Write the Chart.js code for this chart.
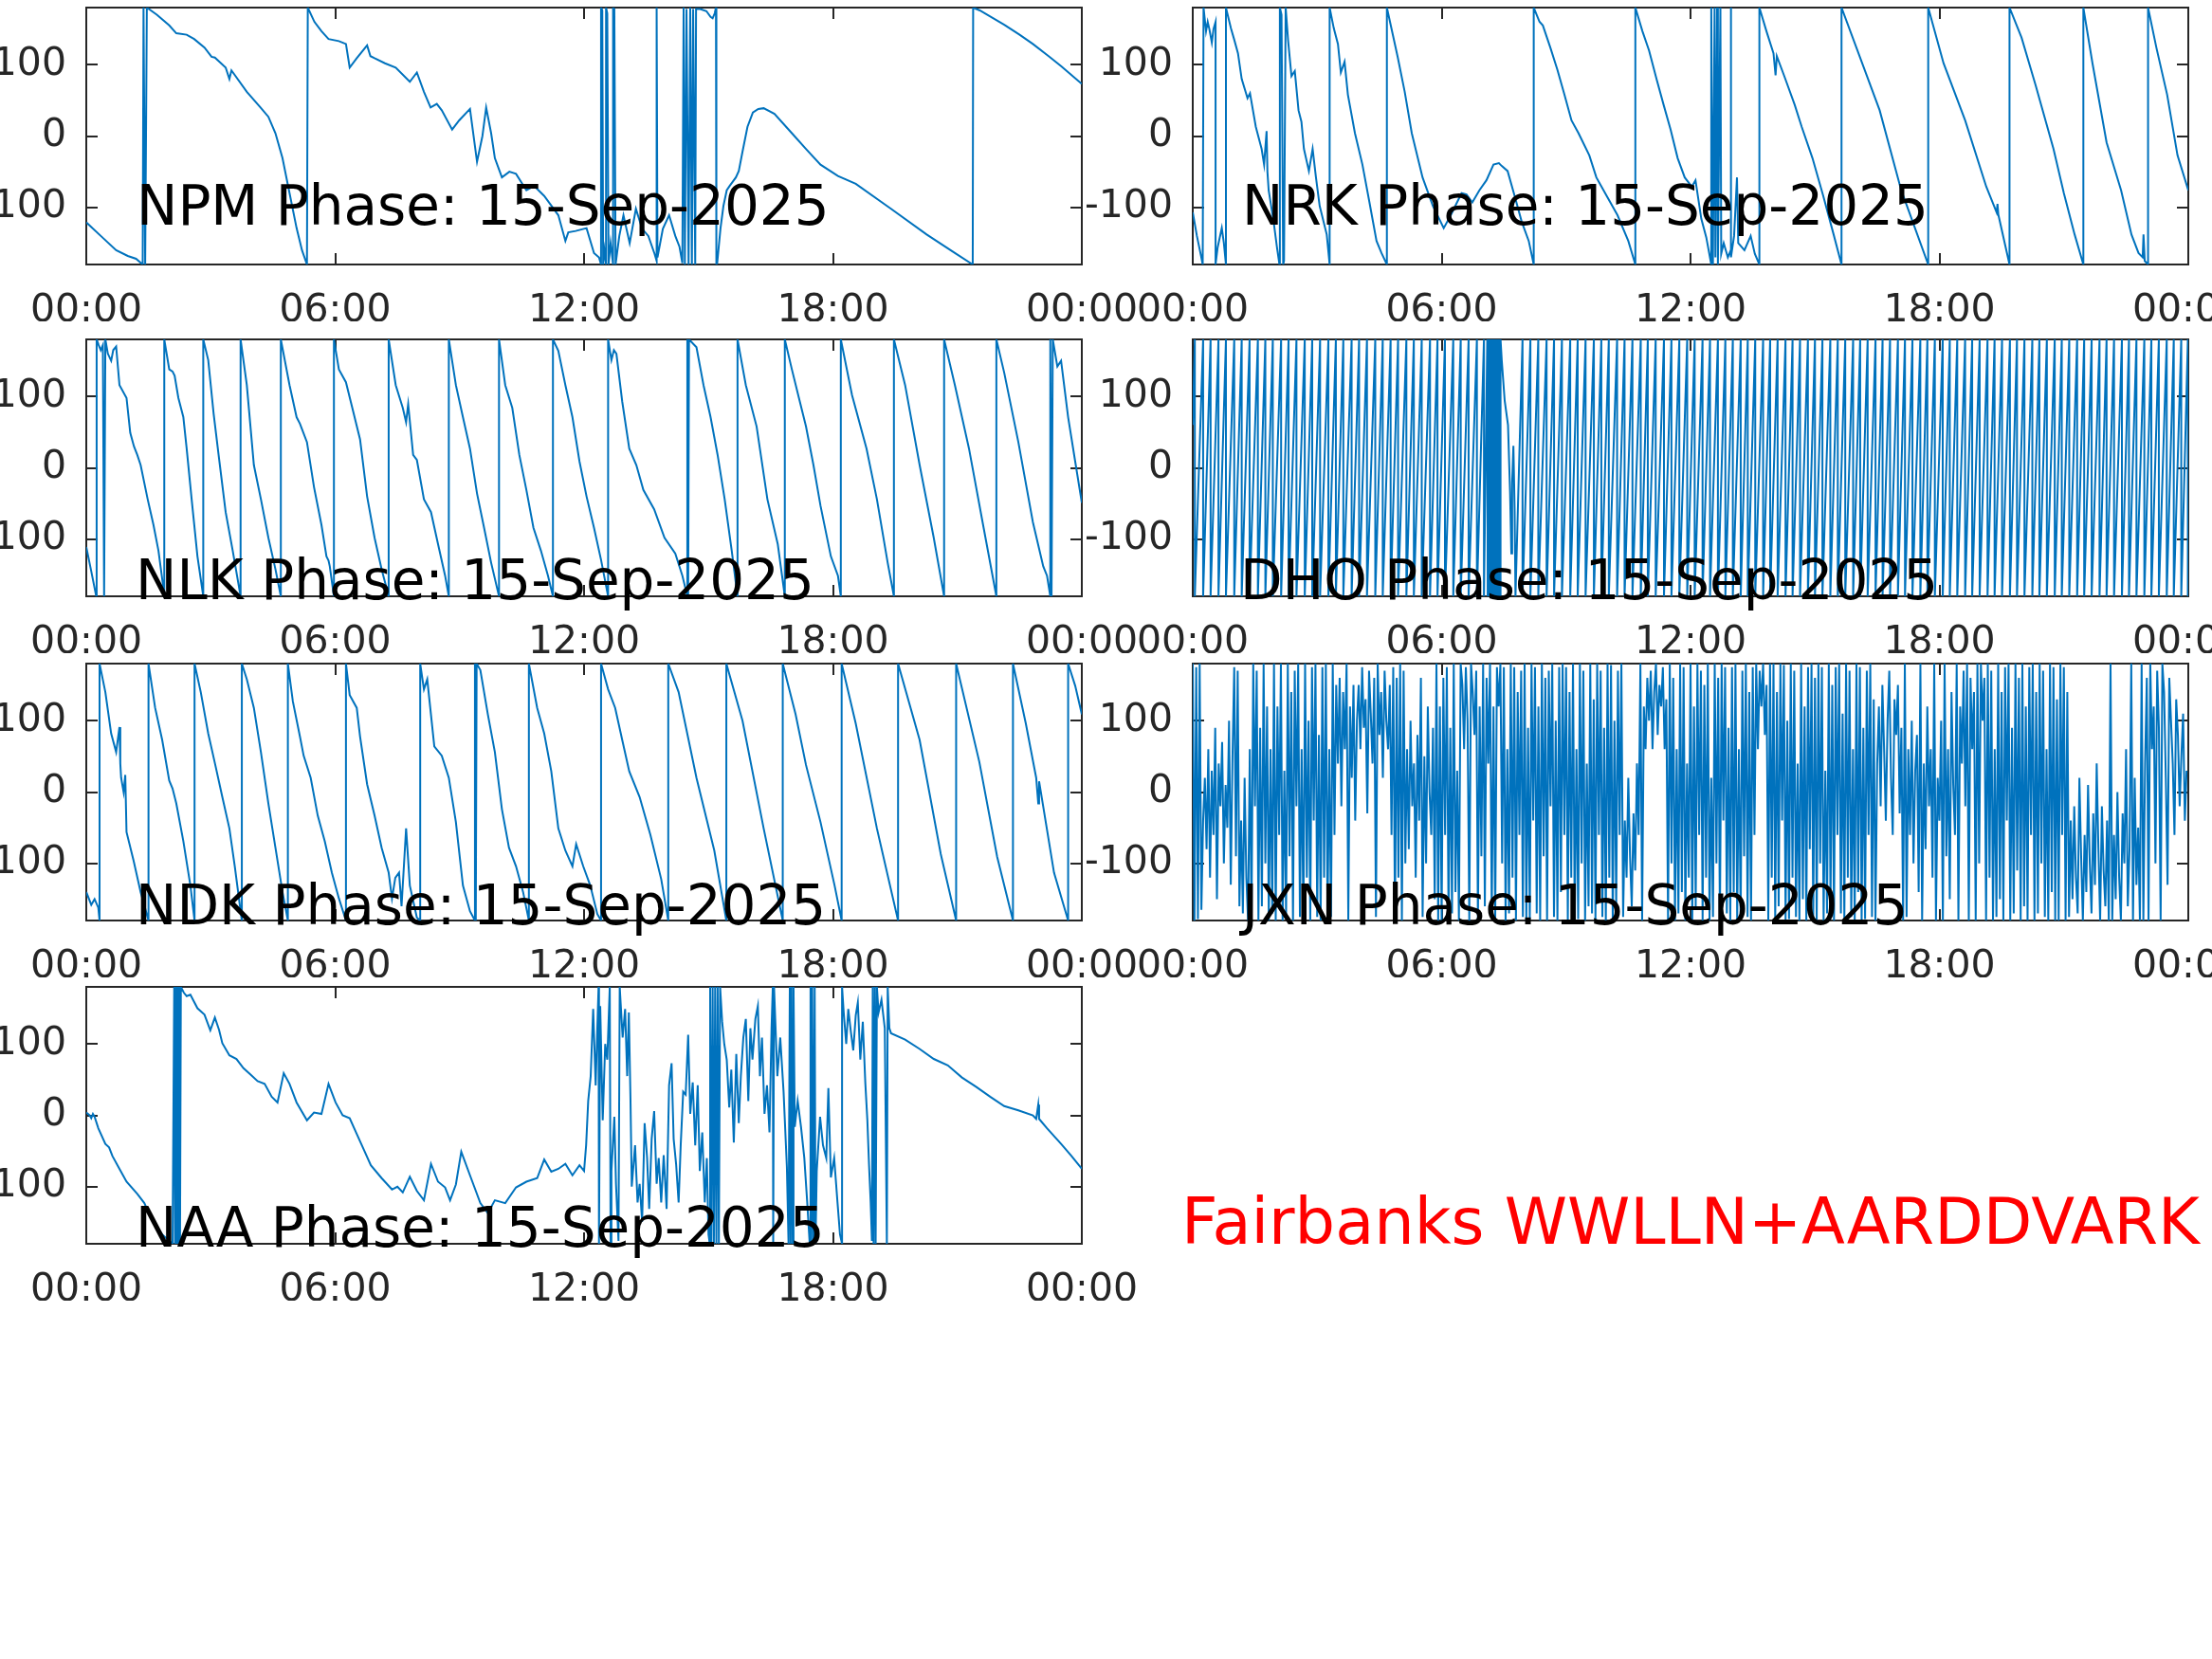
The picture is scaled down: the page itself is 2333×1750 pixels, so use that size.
<!DOCTYPE html>
<html>
<head>
<meta charset="utf-8">
<script src="https://cdn.jsdelivr.net/npm/chart.js@4.4.1/dist/chart.umd.min.js"></script>
<style>
html,body{margin:0;padding:0;width:2333px;height:1750px;overflow:hidden;background:#ffffff;}
canvas{position:absolute;}
#note{position:absolute;left:1246px;top:1256px;font-family:"DejaVu Sans";font-size:67px;line-height:1;color:#ff0000;white-space:nowrap;}
</style>
</head>
<body>
<div id="note">Fairbanks WWLLN+AARDDVARK</div>
<script>
// ---------------- DATA ----------------
const xTickHours = [0, 6, 12, 18, 24];
const xTickLabels = ["00:00", "06:00", "12:00", "18:00", "00:00"];
const yTicks = [-100, 0, 100];
const dateLabel = "15-Sep-2025";

// [hour, phase(deg)]
const npm = [
[0,-121],[0.35,-140],[0.72,-160],[1.0,-168],[1.2,-172],[1.36,-180],[1.38,180],[1.42,-180],[1.46,180],
[1.7,170],[2.0,155],[2.17,144],[2.42,142],[2.6,136],[2.85,124],[3.02,111],[3.1,110],[3.36,96],[3.45,80],[3.5,92],[3.87,62],[4.2,40],[4.39,27],[4.56,4],[4.73,-31],[4.9,-80],[5.07,-129],[5.2,-160],[5.32,-180],
[5.34,180],[5.5,160],[5.67,147],[5.84,136],[6.09,133],[6.26,129],[6.35,96],[6.52,109],[6.77,127],[6.85,112],[6.95,109],[7.2,102],[7.46,96],[7.8,76],[7.97,89],[8.14,62],[8.3,40],[8.45,45],[8.57,36],[8.82,9],[8.99,22],[9.25,38],[9.42,-36],[9.55,0],[9.64,40],[9.76,4],[9.85,-31],[10.02,-58],[10.2,-50],[10.36,-53],[10.61,-76],[10.8,-70],[11.04,-84],[11.38,-111],[11.55,-147],[11.62,-135],[11.8,-133],[12.06,-129],[12.24,-164],[12.36,-170],
[12.41,-180],[12.41,180],[12.44,176],[12.46,-180],[12.49,-160],[12.53,-180],[12.53,180],[12.56,172],[12.59,-180],[12.64,-150],[12.7,-180],[12.7,180],[12.73,178],[12.76,-180],[12.85,-140],[12.95,-111],[13.1,-150],[13.25,-102],[13.4,-130],[13.55,-140],[13.7,-165],[13.75,-175],[13.75,180],[13.77,-170],
[13.9,-130],[14.05,-111],[14.2,-140],[14.3,-155],[14.37,-178],[14.4,180],[14.43,-180],[14.47,178],[14.52,-180],[14.56,180],[14.6,-180],[14.63,178],[14.68,-180],[14.7,178],[14.8,178],[14.95,175],[15.05,167],[15.1,165],[15.15,172],[15.18,180],[15.19,-180],
[15.21,-178],[15.29,-129],[15.36,-98],[15.44,-76],[15.51,-70],[15.66,-58],[15.73,-49],[15.82,-22],[15.94,13],[16.07,33],[16.2,38],[16.33,39],[16.59,31],[17.01,4],[17.35,-18],[17.7,-40],[18.12,-56],[18.55,-67],[19.4,-102],[20.26,-138],[20.94,-164],[21.37,-180],
[21.38,180],[21.54,176],[22.13,156],[22.5,142],[22.82,129],[23.2,112],[23.5,98],[24,73]
];

const nrk = [
[0,-107],[0.1,-140],[0.2,-168],[0.24,-180],[0.26,180],[0.32,147],[0.36,160],[0.4,150],[0.46,131],[0.5,150],[0.55,160],[0.55,-180],[0.6,-156],[0.7,-129],[0.75,-150],[0.8,-180],[0.8,180],
[0.92,151],[1.0,135],[1.09,116],[1.18,80],[1.32,53],[1.38,60],[1.52,13],[1.66,-18],[1.72,-40],[1.78,7],[1.8,-50],[1.83,-76],[1.95,-120],[2.03,-156],[2.09,-180],[2.1,180],[2.14,170],[2.18,-180],[2.2,-175],[2.24,180],
[2.3,133],[2.38,84],[2.46,91],[2.55,36],[2.62,20],[2.68,-18],[2.8,-49],[2.89,-18],[2.97,-58],[3.06,-98],[3.23,-138],[3.3,-180],[3.3,180],
[3.4,151],[3.5,129],[3.57,89],[3.66,104],[3.74,58],[3.91,4],[4.09,-40],[4.26,-93],[4.43,-147],[4.55,-164],[4.68,-180],[4.68,180],
[4.94,111],[5.11,62],[5.28,4],[5.54,-58],[5.79,-98],[6.05,-129],[6.22,-111],[6.48,-80],[6.6,-82],[6.74,-93],[6.91,-76],[7.08,-62],[7.25,-40],[7.38,-38],[7.45,-42],[7.59,-49],[7.76,-84],[7.93,-120],[8.1,-147],[8.22,-180],[8.22,180],
[8.36,160],[8.44,155],[8.62,124],[8.79,93],[8.96,58],[9.13,22],[9.3,4],[9.56,-27],[9.73,-58],[9.98,-84],[10.24,-111],[10.5,-147],[10.67,-180],[10.67,180],
[10.84,147],[11.0,120],[11.18,80],[11.35,44],[11.52,9],[11.69,-31],[11.86,-58],[12.03,-71],[12.12,-62],[12.26,-116],[12.38,-142],[12.5,-180],[12.5,180],[12.54,-180],[12.58,180],[12.6,-170],[12.64,180],[12.66,-180],[12.72,180],[12.74,-165],[12.8,-150],[12.9,-170],[12.97,-160],[12.97,180],[12.98,-170],[13.05,-140],[13.12,-58],[13.15,-150],[13.3,-160],[13.45,-140],[13.55,-165],[13.66,-180],[13.66,180],
[13.83,147],[14.0,116],[14.05,85],[14.08,112],[14.26,84],[14.51,44],[14.68,13],[14.94,-31],[15.2,-84],[15.45,-138],[15.64,-180],[15.64,180],
[16.56,36],[17.08,-76],[17.73,-180],[17.73,180],
[18.1,102],[18.62,22],[19.13,-71],[19.38,-107],[19.4,-95],[19.42,-110],[19.69,-180],[19.69,180],
[19.98,138],[20.32,71],[20.75,-18],[21.0,-80],[21.26,-138],[21.47,-180],[21.47,180],
[21.69,102],[22.03,-9],[22.38,-76],[22.63,-138],[22.8,-164],[22.9,-170],[22.92,-138],[22.95,-175],[23.03,-180],[23.03,180],
[23.23,124],[23.49,58],[23.74,-27],[24,-76]
];

const nlk = [
[0,-111],[0.12,-145],[0.24,-180],[0.25,180],[0.3,172],[0.35,165],[0.4,172],[0.43,-180],[0.46,180],[0.52,160],[0.6,150],[0.65,165],[0.72,170],[0.8,116],[0.97,98],[1.06,49],[1.15,30],[1.23,18],[1.31,4],[1.48,-44],[1.62,-80],[1.74,-116],[1.86,-169],[1.88,-180],[1.88,180],
[2.0,138],[2.08,135],[2.13,129],[2.22,98],[2.34,71],[2.42,27],[2.54,-44],[2.68,-124],[2.82,-180],[2.82,180],
[2.94,151],[3.07,76],[3.19,18],[3.36,-62],[3.53,-116],[3.72,-180],[3.72,180],
[3.87,116],[4.04,4],[4.21,-44],[4.39,-98],[4.56,-142],[4.69,-180],[4.69,180],
[4.9,116],[5.07,71],[5.15,62],[5.32,36],[5.49,-27],[5.67,-80],[5.79,-124],[5.84,-130],[5.87,-138],[5.97,-180],[5.97,180],
[6.09,138],[6.26,120],[6.43,80],[6.6,40],[6.77,-40],[6.95,-98],[7.12,-142],[7.29,-180],[7.29,180],
[7.46,116],[7.63,84],[7.71,64],[7.76,89],[7.88,18],[7.97,11],[8.14,-44],[8.31,-62],[8.48,-107],[8.65,-151],[8.74,-180],[8.74,180],
[8.91,116],[9.08,71],[9.25,27],[9.42,-36],[9.59,-84],[9.76,-133],[9.95,-180],[9.95,180],
[10.1,116],[10.27,84],[10.44,18],[10.61,-31],[10.78,-84],[10.96,-116],[11.13,-151],[11.25,-180],[11.25,180],
[11.38,164],[11.55,116],[11.72,71],[11.89,9],[12.06,-40],[12.24,-84],[12.41,-129],[12.58,-180],[12.58,180],
[12.66,151],[12.72,165],[12.78,160],[12.92,93],[13.09,27],[13.26,4],[13.43,-31],[13.69,-58],[13.94,-98],[14.2,-120],[14.37,-151],[14.49,-180],[14.49,180],[14.51,-180],[14.53,180],
[14.71,169],[14.88,116],[15.05,71],[15.22,18],[15.39,-44],[15.56,-116],[15.7,-180],[15.7,180],
[15.9,116],[16.16,58],[16.42,-44],[16.67,-107],[16.84,-180],[16.84,180],
[17.01,138],[17.18,98],[17.35,58],[17.53,4],[17.7,-53],[17.95,-124],[18.12,-151],[18.19,-180],[18.19,180],
[18.46,102],[18.81,27],[19.06,-44],[19.32,-133],[19.47,-180],[19.47,180],
[19.74,116],[20.09,4],[20.43,-98],[20.68,-180],[20.68,180],
[20.94,116],[21.28,27],[21.62,-80],[21.94,-180],[21.94,180],
[22.13,133],[22.47,36],[22.82,-76],[23.07,-138],[23.16,-151],[23.24,-180],[23.24,180],[23.27,-180],[23.3,180],
[23.41,142],[23.5,150],[23.67,71],[23.84,9],[24,-49]
];

const ndk = [
[0,-140],[0.12,-158],[0.2,-150],[0.29,-162],[0.32,-180],[0.32,180],
[0.46,140],[0.6,82],[0.72,56],[0.8,91],[0.82,40],[0.84,20],[0.9,0],[0.94,24],[0.97,-56],[1.14,-96],[1.31,-140],[1.5,-180],[1.5,180],
[1.66,118],[1.83,73],[2.0,16],[2.08,5],[2.17,-16],[2.34,-69],[2.51,-131],[2.61,-180],[2.61,180],
[2.76,140],[2.94,82],[3.11,38],[3.28,-7],[3.45,-51],[3.58,-104],[3.75,-180],[3.75,180],
[3.87,158],[4.04,118],[4.21,56],[4.39,-16],[4.56,-78],[4.73,-140],[4.86,-180],[4.86,180],
[4.98,127],[5.15,78],[5.24,51],[5.41,20],[5.58,-33],[5.75,-69],[5.92,-113],[6.09,-149],[6.26,-180],[6.26,180],
[6.35,136],[6.52,118],[6.6,78],[6.77,11],[6.95,-33],[7.12,-78],[7.29,-113],[7.37,-149],[7.45,-120],[7.54,-113],[7.6,-160],[7.71,-51],[7.8,-131],[7.97,-176],[8.05,-180],[8.05,180],
[8.14,144],[8.22,158],[8.39,64],[8.57,51],[8.74,20],[8.91,-42],[9.08,-131],[9.25,-167],[9.37,-180],[9.37,180],[9.39,-180],[9.41,180],
[9.5,171],[9.68,109],[9.85,56],[10.02,-24],[10.19,-78],[10.36,-104],[10.53,-140],[10.67,-180],[10.67,180],
[10.87,118],[11.04,82],[11.21,29],[11.38,-51],[11.55,-82],[11.72,-104],[11.81,-73],[11.98,-104],[12.15,-131],[12.32,-171],[12.41,-180],[12.41,180],
[12.58,144],[12.75,118],[12.92,73],[13.09,29],[13.34,-7],[13.6,-60],[13.86,-122],[14.03,-180],[14.03,180],
[14.28,140],[14.71,20],[15.14,-82],[15.43,-180],[15.43,180],
[15.82,100],[16.33,-51],[16.79,-180],[16.79,180],
[17.1,109],[17.35,38],[17.7,-42],[18.04,-131],[18.21,-180],[18.21,180],
[18.55,96],[19.06,-51],[19.57,-180],[19.57,180],
[20.09,73],[20.6,-87],[20.97,-180],[20.97,180],
[21.53,42],[21.96,-91],[22.34,-180],[22.34,180],
[22.65,96],[22.9,20],[22.95,-16],[22.97,15],[23.33,-113],[23.67,-180],[23.67,180],
[23.84,149],[24,109]
];

const naa = [
[0,4],[0.08,0],[0.12,-4],[0.16,2],[0.2,-2],[0.29,-18],[0.46,-40],[0.55,-45],[0.63,-57],[0.8,-75],[0.97,-93],[1.23,-110],[1.4,-123],[1.57,-145],[1.83,-167],[2.08,-180],
[2.12,180],[2.14,-180],[2.16,180],[2.18,-180],[2.2,180],[2.22,-180],[2.24,180],[2.26,-180],[2.28,180],
[2.35,172],[2.42,167],[2.51,169],[2.68,150],[2.85,141],[2.99,119],[3.1,137],[3.2,120],[3.28,101],[3.45,84],[3.62,79],[3.79,66],[3.96,57],[4.13,48],[4.3,44],[4.47,26],[4.61,18],[4.76,59],[4.9,44],[5.07,18],[5.32,-7],[5.49,4],[5.67,2],[5.84,44],[6.01,18],[6.18,0],[6.35,-4],[6.52,-26],[6.69,-48],[6.86,-70],[7.12,-88],[7.37,-104],[7.5,-100],[7.63,-108],[7.8,-86],[7.97,-106],[8.14,-119],[8.31,-68],[8.48,-93],[8.65,-101],[8.77,-119],[8.91,-97],[9.04,-51],[9.25,-84],[9.5,-123],[9.68,-137],[9.85,-119],[10.1,-123],[10.36,-101],[10.61,-93],[10.87,-88],[11.04,-62],[11.21,-79],[11.38,-75],[11.55,-68],[11.72,-84],[11.89,-70],[12.0,-78],
[12.05,-42],[12.1,20],[12.16,55],[12.22,149],[12.28,42],[12.32,122],[12.35,180],[12.36,-180],[12.39,153],[12.45,-7],[12.51,100],[12.56,78],[12.62,180],[12.64,-180],[12.66,-78],[12.73,-2],[12.77,-96],[12.83,-176],[12.86,180],[12.93,109],[12.99,149],[13.04,55],[13.08,144],[13.12,20],[13.15,-100],[13.23,-42],[13.29,-122],[13.34,-96],[13.4,-149],[13.46,-11],[13.52,-60],[13.57,-131],[13.63,-33],[13.69,6],[13.75,-96],[13.8,-60],[13.86,-122],[13.92,-56],[13.99,-131],[14.05,42],[14.11,73],[14.16,-33],[14.22,-69],[14.28,-122],[14.33,-42],[14.39,33],[14.45,29],[14.51,113],[14.56,2],[14.62,46],[14.68,-42],[14.74,42],[14.79,-78],[14.85,-24],[14.91,-122],[14.96,-60],[15.0,-167],
[15.03,-180],[15.04,180],[15.07,-180],[15.1,180],[15.13,-180],[15.16,180],[15.19,-180],[15.22,180],[15.25,-180],[15.28,180],
[15.33,131],[15.38,100],[15.44,78],[15.5,11],[15.55,64],[15.61,-38],[15.67,86],[15.73,-11],[15.78,55],[15.84,109],[15.9,135],[15.96,20],[16.01,122],[16.06,78],[16.13,135],[16.19,153],[16.24,55],[16.29,109],[16.35,2],[16.41,42],[16.47,-24],[16.52,122],[16.55,180],[16.56,-180],[16.58,180],
[16.66,55],[16.73,109],[16.81,33],[16.89,-73],[16.93,-180],[16.96,180],[16.98,-180],[17.0,180],[17.03,-180],[17.05,180],[17.08,-16],[17.15,20],[17.23,-16],[17.31,-60],[17.38,-122],[17.44,-180],[17.46,180],[17.48,-180],[17.5,180],[17.53,-180],[17.56,180],[17.58,-180],
[17.61,-78],[17.69,-2],[17.76,-42],[17.84,-60],[17.89,38],[17.95,-87],[18.03,-60],[18.11,-122],[18.17,-167],[18.22,-180],[18.22,180],[18.26,144],[18.32,100],[18.37,149],[18.43,118],[18.49,91],[18.55,140],[18.6,158],[18.66,78],[18.72,131],[18.78,46],[18.83,-7],[18.87,-69],[18.91,-122],[18.94,-176],
[18.96,180],[18.98,-180],[19.01,180],[19.03,-180],[19.06,180],[19.1,144],[19.17,162],[19.25,122],[19.3,-180],[19.32,180],[19.36,122],
[19.4,115],[19.74,106],[20.09,93],[20.43,79],[20.77,70],[21.11,53],[21.45,40],[21.79,26],[22.13,13],[22.47,7],[22.82,0],[22.9,-5],[22.95,15],[22.97,-5],[23.16,-18],[23.5,-40],[23.75,-57],[24,-75]
];

// DHO: times (h) at which the rising phase wraps from +180 to -180
const dhoStart = 60;
const dhoWrapsEarly = [0.05,0.25,0.43,0.62,0.80,1.00,1.18,1.37,1.57,1.75,1.93,2.13,2.31,2.50,2.70,2.88,3.07,3.27,3.45,3.63,3.83,4.01,4.20,4.40,4.58,4.77,4.95,5.15,5.33,5.52,5.72,5.90,6.08,6.28,6.46,6.65,6.85,7.02];
const dhoBurst = [
[7.10,180],[7.11,-180],[7.13,180],[7.14,-180],[7.16,180],[7.17,-180],[7.19,180],[7.20,-180],[7.22,180],[7.23,-180],[7.25,180],[7.26,-180],[7.28,180],[7.29,-180],[7.31,180],[7.32,-180],[7.34,180],[7.35,-180],[7.37,180],[7.38,-180],[7.40,180],[7.41,-180],[7.42,180],
[7.45,150],[7.52,94],[7.6,60],[7.65,-35],[7.68,-120],[7.7,-20],[7.73,31],[7.76,-60],[7.78,-180]
];
const dhoWrapsLate = [7.95,8.14,8.33,8.53,8.71,8.90,9.10,9.28,9.47,9.67,9.85,10.03,10.23,10.41,10.60,10.80,10.97,11.16,11.36,11.54,11.73,11.92,12.10,12.29,12.47,12.66,12.84,13.02,13.21,13.38,13.56,13.75,13.92,14.10,14.29,14.46,14.64,14.83,15.00,15.18,15.37,15.55,15.73,15.92,16.09,16.27,16.46,16.63,16.81,17.00,17.17,17.35,17.54,17.71,17.89,18.08,18.25,18.43,18.62,18.79,18.97,19.16,19.33,19.51,19.70,19.87,20.05,20.24,20.41,20.59,20.78,20.95,21.13,21.32,21.49,21.67,21.86,22.03,22.21,22.40,22.57,22.75,22.94,23.11,23.29,23.48,23.65,23.83,23.99];
const dhoEnd = -170;

// JXN: phase sampled every 2.5 minutes (24 samples per hour), one row per hour
const jxnStepHours = 1 / 24;
const jxn = [
180,-180,175,-178,180,-165,-40,20,-80,60,-120,30,-60,90,-150,40,-20,70,-100,10,-50,100,-130,50,
175,-90,170,-160,-40,-170,20,-120,-180,60,-180,180,-20,170,-180,90,-160,180,-100,120,-180,60,-170,180,
-180,120,-60,180,-180,30,-175,180,-90,140,-180,170,-20,180,-175,60,-180,180,-120,100,-180,175,-40,180,
-175,80,-180,175,-120,180,-180,60,-175,180,-60,150,40,160,-20,140,60,180,-180,120,20,150,-40,100,
150,60,175,90,130,-30,170,110,40,160,-175,180,80,140,20,170,100,60,150,-60,175,-180,160,-120,
180,-180,170,-100,60,-80,100,-20,40,-120,80,-40,160,-175,50,-100,120,0,-60,90,-150,180,-180,120,
-180,160,-60,175,-180,90,-170,180,-140,30,-180,180,150,60,175,100,-180,180,140,80,170,-180,120,-90,
180,-160,160,40,180,-175,120,-180,175,120,180,-100,175,-180,60,-170,180,-120,175,-180,140,-60,170,-175,
180,-180,90,-178,180,-40,175,-170,120,-180,180,-90,160,-180,170,-20,180,-175,100,-180,175,-140,180,-60,
175,-180,140,-120,180,-180,60,-178,180,-100,170,-180,40,-160,180,-170,130,-180,180,-60,170,-175,90,-180,
180,-120,178,-180,100,-160,170,-60,180,-175,-40,-120,20,-90,-160,-30,-110,40,-60,180,-180,120,60,160,
100,170,60,140,180,80,150,120,175,60,130,-180,180,-100,160,-180,60,-170,180,-140,175,-180,40,-120,
180,-180,120,-160,180,-60,170,-180,150,-120,180,-180,20,-175,180,-100,160,-180,180,-40,175,-170,90,-180,
175,-140,180,-180,60,-178,170,-90,180,-175,140,-180,175,-60,180,60,170,120,180,80,150,-180,180,-120,
180,-180,140,-160,180,-40,178,-180,100,-178,180,-120,170,-175,40,-180,180,-150,120,-180,175,-80,180,-178,
160,-180,180,-100,175,-180,30,-170,180,-160,150,-180,175,-60,180,-170,110,-180,180,-120,170,-175,60,-180,
180,-140,175,-180,90,-178,170,-60,180,-175,130,-180,40,120,-20,150,60,-40,100,170,20,-60,130,80,
150,-30,90,-180,180,-175,60,-60,100,-100,30,80,-140,180,-180,40,-80,120,-20,60,-120,180,-180,20,
-40,100,-180,180,-90,60,-150,140,10,-60,180,-180,120,40,170,-20,180,-180,160,60,140,-180,180,-100,
180,100,160,-180,180,-120,170,-180,60,-175,180,-150,140,-180,175,-40,180,-180,90,-170,180,-110,160,-180,
180,-160,120,-180,175,-60,180,-180,140,-170,180,-100,170,-175,60,-180,180,-140,175,-180,130,-180,180,-60,
175,-180,140,-175,-40,-150,-20,-120,-170,20,-90,-180,-60,-140,10,-100,-170,-30,-130,40,-80,-180,-20,-110,
-160,-40,-180,180,-180,-60,-150,0,-120,-180,-30,-100,60,-160,-80,180,-180,20,-130,-50,-180,180,-180,40,
160,-180,180,60,120,-100,170,90,-180,180,140,20,-130,160,100,40,-60,130,80,-20,50,110,-40,30
];

// ---------------- BUILD ----------------
function buildDho() {
  const pts = [[0, dhoStart]];
  dhoWrapsEarly.forEach(w => { pts.push([w, 180], [w, -180]); });
  dhoBurst.forEach(p => pts.push(p));
  dhoWrapsLate.forEach(w => { pts.push([w, 180], [w, -180]); });
  pts.push([24, dhoEnd]);
  return pts;
}
function buildJxn() {
  return jxn.map((v, i) => [i * jxnStepHours, v]);
}

const PLOT_W = 1050, PLOT_H = 271;
const colLeft = [91, 1258];
const rowTop = [8, 358, 700, 1041];

const panels = [
  {name: "NPM", data: npm,        col: 0, row: 0, tdx: 53, tdy: 229},
  {name: "NRK", data: nrk,        col: 1, row: 0, tdx: 52, tdy: 229},
  {name: "NLK", data: nlk,        col: 0, row: 1, tdx: 52, tdy: 274},
  {name: "DHO", data: buildDho(), col: 1, row: 1, tdx: 50, tdy: 274},
  {name: "NDK", data: ndk,        col: 0, row: 2, tdx: 52, tdy: 275},
  {name: "JXN", data: buildJxn(), col: 1, row: 2, tdx: 52, tdy: 275},
  {name: "NAA", data: naa,        col: 0, row: 3, tdx: 52, tdy: 274}
];

const AXIS_COLOR = "#262626";
const FONT = "DejaVu Sans";
const TICK_FONT_SIZE = 41;
const TITLE_FONT_SIZE = 58;

function framePlugin(p) {
  return {
    id: "frame" + p.name,
    beforeDatasetsDraw(chart) {
      const {ctx, chartArea: a, scales} = chart;
      ctx.save();
      ctx.strokeStyle = AXIS_COLOR;
      ctx.lineWidth = 2;
      ctx.strokeRect(a.left, a.top, a.right - a.left, a.bottom - a.top);
      const tl = 12;
      ctx.beginPath();
      xTickHours.forEach(h => {
        const x = Math.round(scales.x.getPixelForValue(h));
        ctx.moveTo(x, a.bottom); ctx.lineTo(x, a.bottom - tl);
        ctx.moveTo(x, a.top); ctx.lineTo(x, a.top + tl);
      });
      yTicks.forEach(v => {
        const y = Math.round(scales.y.getPixelForValue(v));
        ctx.moveTo(a.left, y); ctx.lineTo(a.left + tl, y);
        ctx.moveTo(a.right, y); ctx.lineTo(a.right - tl, y);
      });
      ctx.stroke();
      ctx.restore();
    },
    afterDatasetsDraw(chart) {
      const {ctx, chartArea: a} = chart;
      ctx.save();
      ctx.fillStyle = "#000000";
      ctx.font = TITLE_FONT_SIZE + 'px "' + FONT + '"';
      ctx.textBaseline = "alphabetic";
      ctx.textAlign = "left";
      ctx.fillText(p.name + " Phase: " + dateLabel, a.left + p.tdx, a.top + p.tdy);
      ctx.restore();
    }
  };
}

function makeChart(p) {
  const L = p.col === 0 ? 91 : 130, T = 8, R = 70, B = 60;
  const cv = document.createElement("canvas");
  const w = L + PLOT_W + R, h = T + PLOT_H + B;
  cv.width = w; cv.height = h;
  cv.style.width = w + "px"; cv.style.height = h + "px";
  cv.style.left = (colLeft[p.col] - L) + "px";
  cv.style.top = (rowTop[p.row] - T) + "px";
  document.body.appendChild(cv);
  new Chart(cv, {
    type: "line",
    data: {
      datasets: [{
        data: p.data.map(([x, y]) => ({x, y})),
        borderColor: "#0072BD",
        borderWidth: 2,
        pointRadius: 0,
        tension: 0,
        fill: false
      }]
    },
    options: {
      responsive: false,
      animation: false,
      devicePixelRatio: 1,
      events: [],
      parsing: false,
      layout: {padding: {left: 0, top: T, right: R, bottom: 0}},
      plugins: {legend: {display: false}, tooltip: {enabled: false}, title: {display: false}},
      scales: {
        x: {
          type: "linear", min: 0, max: 24,
          grid: {display: false, drawTicks: false},
          border: {display: false},
          afterBuildTicks: s => { s.ticks = xTickHours.map(v => ({value: v})); },
          afterFit: s => { s.height = B; s.paddingLeft = 0; s.paddingRight = 0; },
          ticks: {
            autoSkip: false, maxRotation: 0, minRotation: 0, padding: 25,
            color: AXIS_COLOR, font: {family: FONT, size: TICK_FONT_SIZE},
            callback: v => xTickLabels[xTickHours.indexOf(v)]
          }
        },
        y: {
          type: "linear", min: -180, max: 180,
          grid: {display: false, drawTicks: false},
          border: {display: false},
          afterBuildTicks: s => { s.ticks = yTicks.map(v => ({value: v})); },
          afterFit: s => { s.width = L; s.paddingTop = 0; s.paddingBottom = 0; },
          ticks: {
            padding: 21, color: AXIS_COLOR, font: {family: FONT, size: TICK_FONT_SIZE},
            callback: v => String(v)
          }
        }
      }
    },
    plugins: [framePlugin(p)]
  });
}

panels.forEach(makeChart);
</script>
</body>
</html>
